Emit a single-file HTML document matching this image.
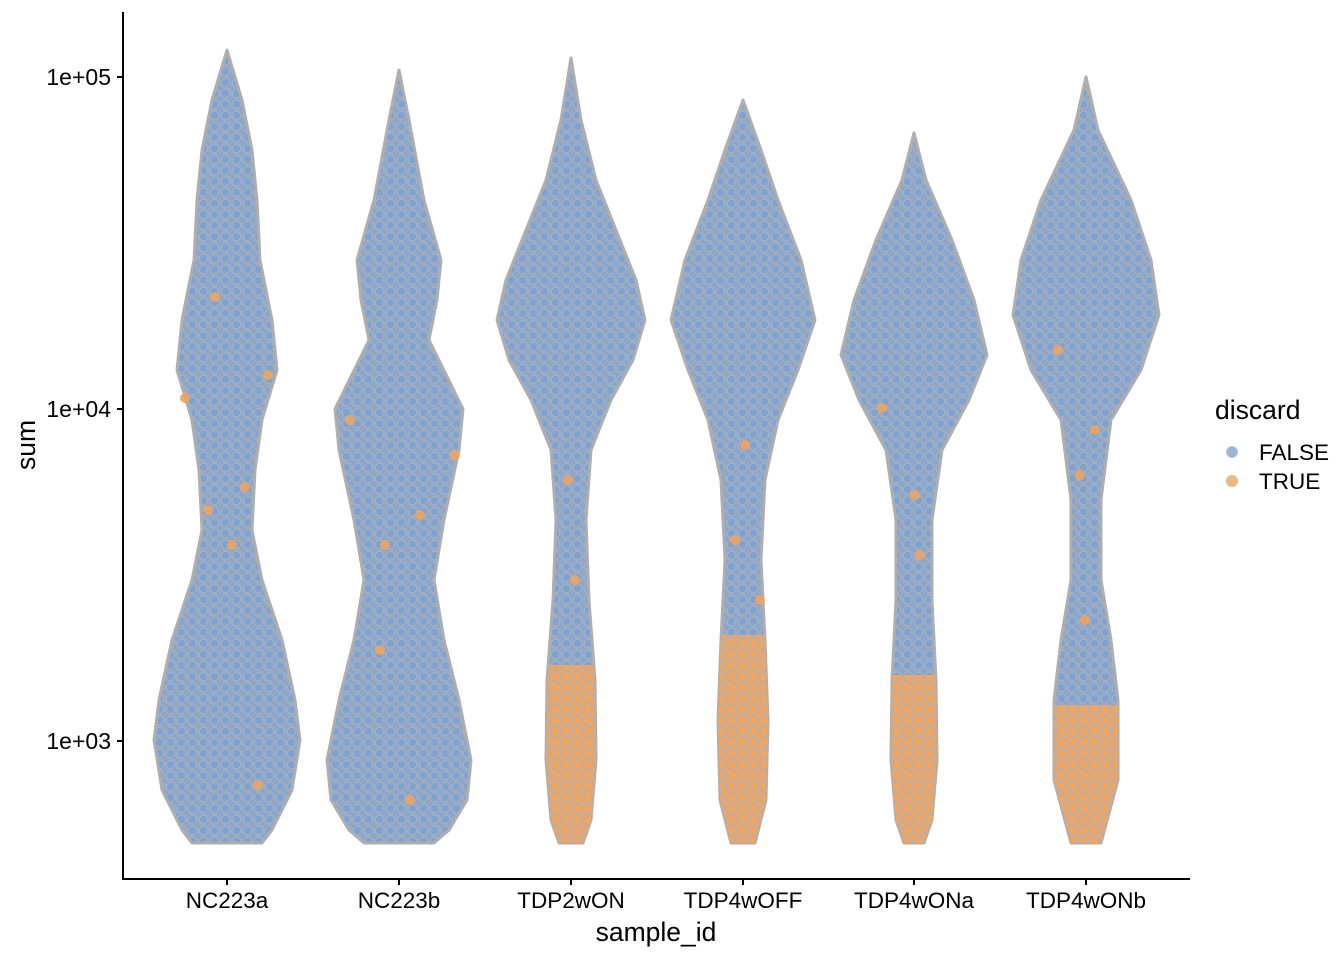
<!DOCTYPE html>
<html><head><meta charset="utf-8"><style>body{margin:0;background:#fff}svg{display:block}text{font-family:"Liberation Sans",Arial,sans-serif;fill:#000}</style></head>
<body>
<svg width="1344" height="960" viewBox="0 0 1344 960" xmlns="http://www.w3.org/2000/svg">
<defs>
<pattern id="pb" width="11" height="11" patternUnits="userSpaceOnUse">
<rect width="11" height="11" fill="#96aac4"/>
<circle cx="5.5" cy="5.5" r="4.2" fill="#7ea3d2" stroke="#a7b2c0" stroke-width="1"/>
<circle cx="0" cy="0" r="3" fill="#84a4cf"/><circle cx="11" cy="11" r="3" fill="#84a4cf"/>
</pattern>
<pattern id="po" width="11" height="11" patternUnits="userSpaceOnUse">
<rect width="11" height="11" fill="#d0aa86"/>
<circle cx="5.5" cy="5.5" r="4.2" fill="#f5a55a" stroke="#c0ada0" stroke-width="1"/>
<circle cx="0" cy="0" r="3" fill="#f2a660"/><circle cx="11" cy="11" r="3" fill="#f2a660"/>
</pattern>
<polygon id="v1" points="227,50 242,100 252,150 257,200 260,260 272,320 277,370 262,420 255,470 252,530 262,580 282,640 295,700 300,740 292,790 272,830 262,843 192,843 182,830 162,790 154,740 159,700 172,640 192,580 202,530 199,470 192,420 177,370 182,320 194,260 197,200 202,150 212,100"/>
<polygon id="v2" points="399,70 409,120 424,200 441,260 437,300 429,340 463,409 459,450 444,520 434,580 444,640 459,700 471,760 467,800 449,830 434,843 364,843 349,830 331,800 327,760 339,700 354,640 364,580 354,520 339,450 335,409 369,340 361,300 357,260 374,200 389,120"/>
<polygon id="v3" points="571,58 581,120 596,180 616,230 636,280 645,320 633,360 611,400 591,450 586,520 589,600 595,680 596,760 591,820 583,843 559,843 551,820 546,760 547,680 553,600 556,520 551,450 531,400 509,360 497,320 506,280 526,230 546,180 561,120"/>
<polygon id="v4" points="743,100 761,150 778,200 801,260 815,320 798,370 778,420 765,480 761,560 765,640 768,720 766,800 755,843 731,843 720,800 718,720 721,640 725,560 721,480 708,420 688,370 671,320 685,260 708,200 725,150"/>
<polygon id="v5" points="914,133 926,180 952,240 974,300 987,355 969,400 942,450 932,520 932,600 936,680 937,760 932,820 924,843 904,843 896,820 891,760 892,680 896,600 896,520 886,450 859,400 841,355 854,300 876,240 902,180"/>
<polygon id="v6" points="1086,77 1098,130 1131,200 1151,260 1159,315 1141,370 1111,420 1101,500 1101,580 1111,640 1118,700 1118,780 1101,843 1071,843 1054,780 1054,700 1061,640 1071,580 1071,500 1061,420 1031,370 1013,315 1021,260 1041,200 1074,130"/>
<clipPath id="c3"><use href="#v3"/></clipPath>
<clipPath id="c4"><use href="#v4"/></clipPath>
<clipPath id="c5"><use href="#v5"/></clipPath>
<clipPath id="c6"><use href="#v6"/></clipPath>
</defs>
<g fill="url(#pb)" stroke="#aeaeae" stroke-width="3" stroke-linejoin="round">
<use href="#v1"/><use href="#v2"/><use href="#v3"/><use href="#v4"/><use href="#v5"/><use href="#v6"/>
</g>
<rect x="530" y="665" width="130" height="190" fill="url(#po)" clip-path="url(#c3)"/>
<rect x="700" y="635" width="130" height="220" fill="url(#po)" clip-path="url(#c4)"/>
<rect x="880" y="675" width="130" height="180" fill="url(#po)" clip-path="url(#c5)"/>
<rect x="1040" y="705" width="130" height="150" fill="url(#po)" clip-path="url(#c6)"/>
<g fill="#f0a45e" opacity="0.9">
<circle cx="215" cy="297" r="5"/><circle cx="208" cy="510" r="5"/><circle cx="232" cy="545" r="5"/><circle cx="245" cy="487" r="5"/><circle cx="268" cy="375" r="5"/><circle cx="258" cy="785" r="5"/><circle cx="185" cy="398" r="5"/>
<circle cx="350" cy="420" r="5"/><circle cx="420" cy="515" r="5"/><circle cx="385" cy="545" r="5"/><circle cx="410" cy="800" r="5"/><circle cx="455" cy="455" r="5"/><circle cx="380" cy="650" r="5"/>
<circle cx="568" cy="480" r="5"/><circle cx="575" cy="580" r="5"/><circle cx="745" cy="445" r="5"/><circle cx="735" cy="540" r="5"/><circle cx="760" cy="600" r="5"/>
<circle cx="882" cy="408" r="5"/><circle cx="915" cy="495" r="5"/><circle cx="920" cy="555" r="5"/><circle cx="1058" cy="350" r="5"/><circle cx="1080" cy="475" r="5"/><circle cx="1095" cy="430" r="5"/><circle cx="1085" cy="620" r="5"/>
</g>
<g stroke="#000" stroke-width="2" fill="none">
<line x1="123" y1="12" x2="123" y2="880"/>
<line x1="122" y1="879" x2="1190" y2="879"/>
<line x1="117" y1="77" x2="123" y2="77"/><line x1="117" y1="409" x2="123" y2="409"/><line x1="117" y1="741" x2="123" y2="741"/>
<line x1="227" y1="879" x2="227" y2="885"/><line x1="399" y1="879" x2="399" y2="885"/><line x1="571" y1="879" x2="571" y2="885"/><line x1="743" y1="879" x2="743" y2="885"/><line x1="914" y1="879" x2="914" y2="885"/><line x1="1086" y1="879" x2="1086" y2="885"/>
</g>
<g font-size="23" text-anchor="end">
<text x="111" y="85">1e+05</text><text x="111" y="417">1e+04</text><text x="111" y="749">1e+03</text>
</g>
<g font-size="22.5" text-anchor="middle">
<text x="227" y="908">NC223a</text><text x="399" y="908">NC223b</text><text x="571" y="908">TDP2wON</text><text x="743" y="908">TDP4wOFF</text><text x="914" y="908">TDP4wONa</text><text x="1086" y="908">TDP4wONb</text>
</g>
<text x="656" y="941" font-size="26.5" text-anchor="middle">sample_id</text>
<text transform="translate(35,445) rotate(-90)" font-size="26.5" text-anchor="middle">sum</text>
<text x="1215" y="419" font-size="26.5">discard</text>
<circle cx="1232" cy="452" r="5.5" fill="#7ea3d2" stroke="#a7b2c0" opacity="0.8"/>
<circle cx="1232" cy="481" r="5.5" fill="#f5a55a" stroke="#c0ada0" opacity="0.8"/>
<text x="1259" y="460" font-size="22.5">FALSE</text>
<text x="1259" y="489" font-size="22.5">TRUE</text>
</svg>
</body></html>
